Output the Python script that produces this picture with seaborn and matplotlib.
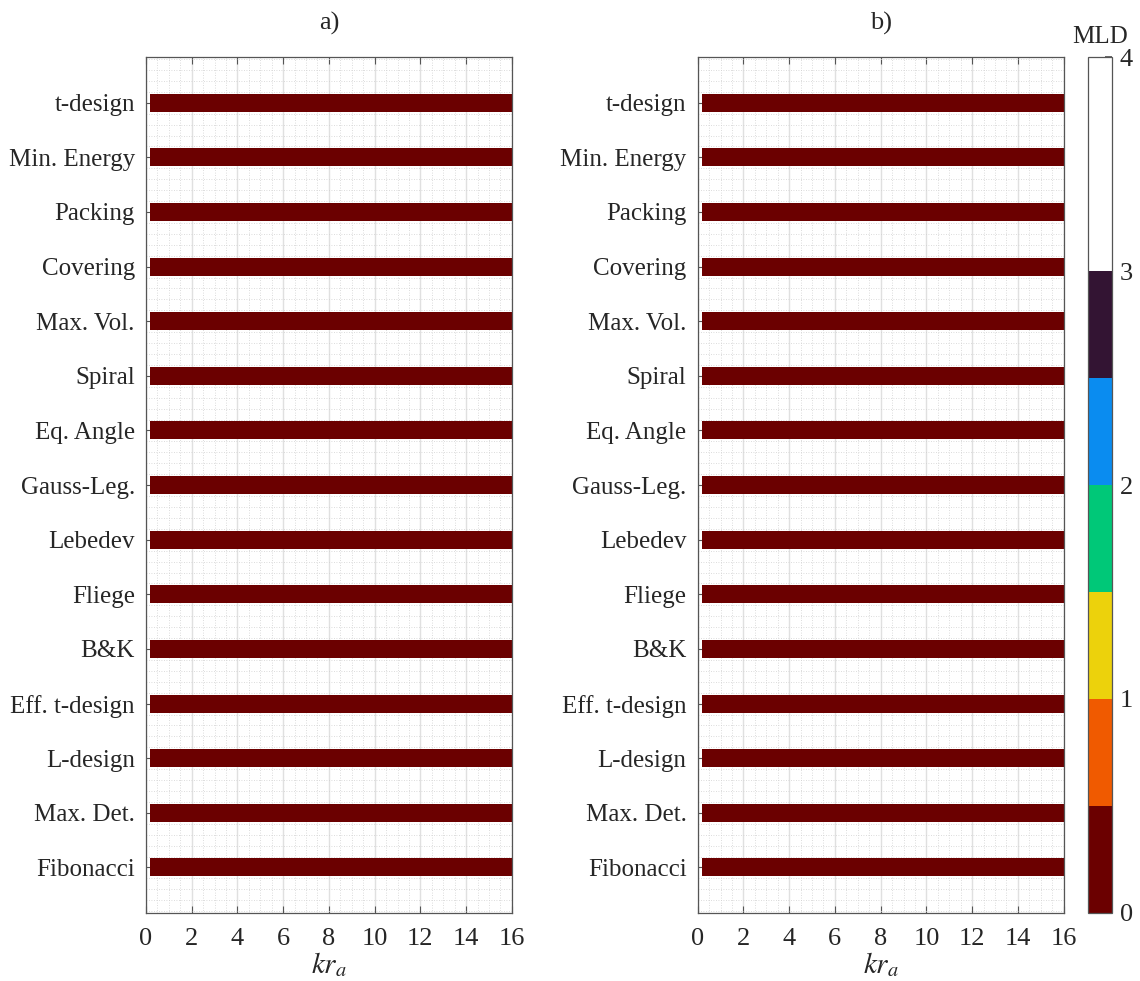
import numpy as np
import matplotlib
matplotlib.use("Agg")
import matplotlib.pyplot as plt
from matplotlib.colors import ListedColormap, BoundaryNorm
import seaborn as sns

sns.set_theme(style="white")
plt.rcParams['font.family'] = ['Liberation Serif', 'DejaVu Serif']
plt.rcParams['mathtext.fontset'] = 'stix'

# sampling designs, top to bottom
methods = ['t-design', 'Min. Energy', 'Packing', 'Covering', 'Max. Vol.',
           'Spiral', 'Eq. Angle', 'Gauss-Leg.', 'Lebedev', 'Fliege',
           'B&K', 'Eff. t-design', 'L-design', 'Max. Det.', 'Fibonacci']

# kr samples (bar runs from ~0.2 to 16)
kr = np.arange(0.2, 16.01, 0.2)

# MLD per method and kr -- every cell reads 0 in both panels
mld_a = np.zeros((len(methods), len(kr)))
mld_b = np.zeros((len(methods), len(kr)))

panel_titles = ['a)', 'b)']
xticks = [0, 2, 4, 6, 8, 10, 12, 14, 16]
cbar_ticks = [0, 1, 2, 3, 4]

# discrete colormap, 8 levels over 0..4
cmap_colors = ['#6b0000', '#f05a00', '#ecd20c', '#00c878',
               '#0a8cf0', '#331433', '#ffffff', '#ffffff']
cmap = ListedColormap(cmap_colors)
norm = BoundaryNorm(np.linspace(0, 4, 9), cmap.N)

fig = plt.figure(figsize=(11.4, 9.81), dpi=100)
axes = [fig.add_axes([0.128, 0.0695, 0.321, 0.872]),
        fig.add_axes([0.612, 0.0695, 0.321, 0.872])]
cax = fig.add_axes([0.9545, 0.0695, 0.0205, 0.872])

n = len(methods)
ypos = np.arange(n, 0, -1)  # t-design at top
half = 0.165
dk = kr[1] - kr[0]
xedges = np.concatenate([[kr[0] - dk / 2], kr + dk / 2])
xedges[-1] = 16.0
xedges[0] = 0.19

fs = 18
edge_col = '#555555'
for ax, data, title in zip(axes, [mld_a, mld_b], panel_titles):
    ax.set_axisbelow(True)
    for i in range(n):
        yedges = [ypos[i] - half, ypos[i] + half]
        mesh = ax.pcolormesh(xedges, yedges, data[i][None, :], cmap=cmap,
                             norm=norm, shading='flat', zorder=2)
    ax.set_xlim(0, 16)
    ax.set_ylim(0.17, 15.83)
    ax.set_xticks(xticks)
    ax.set_xticks(np.arange(0, 16.01, 0.5), minor=True)
    ax.set_yticks(ypos)
    ax.set_yticks(np.arange(0.2, 15.81, 0.2), minor=True)
    ax.set_yticklabels(methods, fontsize=fs)
    ax.set_xticklabels([str(t) for t in xticks], fontsize=19)
    ax.grid(which='major', axis='x', color='#e0e0e0', lw=1.0, ls='-')
    ax.grid(which='minor', color='#d0d0d0', lw=0.6, ls=(0, (1, 2)))
    ax.tick_params(which='major', direction='in', length=5, width=0.8,
                   color=edge_col, top=True, right=False, left=True,
                   bottom=True)
    ax.tick_params(axis='x', pad=11)
    ax.tick_params(axis='y', pad=8)
    ax.tick_params(which='minor', length=0)
    for s in ax.spines.values():
        s.set_color(edge_col)
        s.set_linewidth(0.9)
        s.set_visible(True)
    ax.set_xlabel('$kr_a$', fontsize=21, labelpad=0)
    ax.set_title(title, fontsize=19, pad=20)

cb = fig.colorbar(mesh, cax=cax, ticks=cbar_ticks)
cb.minorticks_off()
cb.ax.tick_params(labelsize=19, direction='in', length=5, color=edge_col,
                  pad=6)
cb.ax.set_yticklabels([str(t) for t in cbar_ticks])
cb.outline.set_edgecolor(edge_col)
cb.outline.set_linewidth(0.9)
cax.set_title('MLD', fontsize=fs, pad=10)

fig.savefig('out.png', dpi=100)
